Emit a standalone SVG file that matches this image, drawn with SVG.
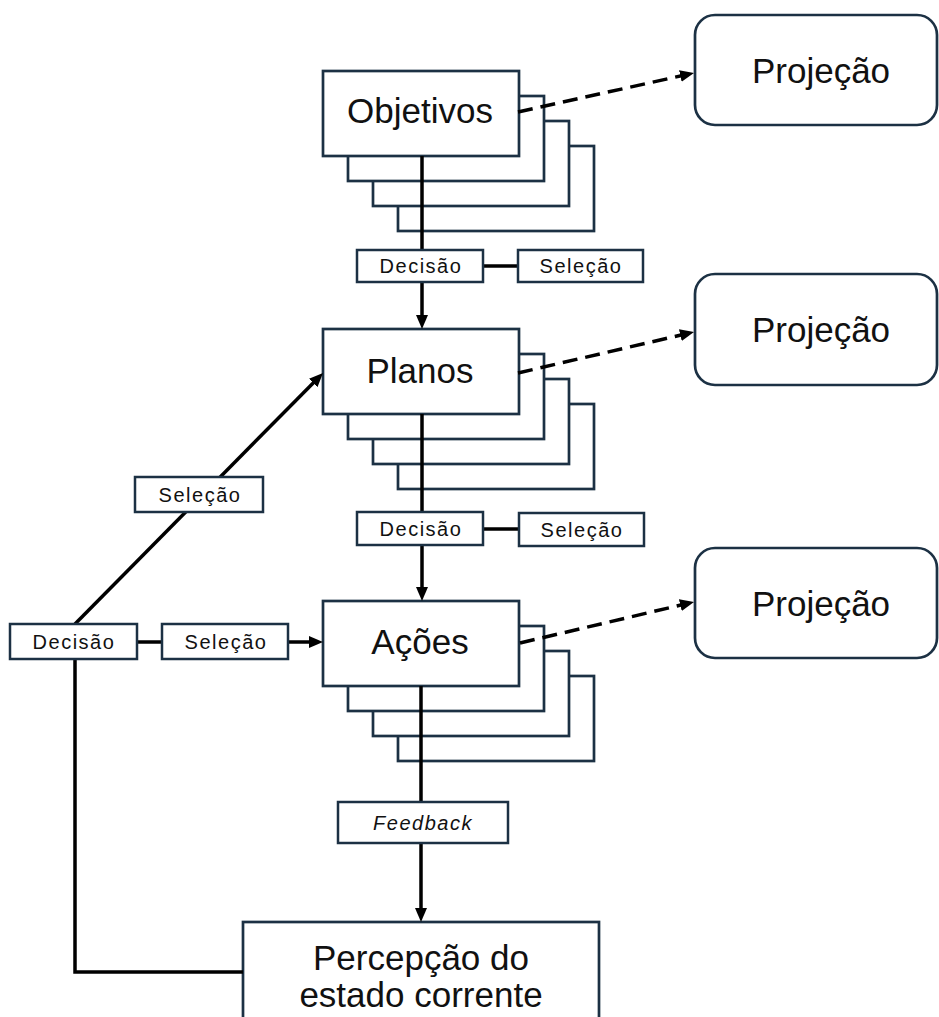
<svg xmlns="http://www.w3.org/2000/svg" width="939" height="1017" viewBox="0 0 939 1017">
  <defs>
    <style>
      .box { fill: #ffffff; stroke: #1c3144; stroke-width: 2.7; }
      .proj { fill: #ffffff; stroke: #1c3144; stroke-width: 2.7; }
      .tag { fill: #ffffff; stroke: #1c3144; stroke-width: 2.5; }
      .big { font-family: "Liberation Sans", Arial, sans-serif; font-size: 35px; fill: #111111; text-anchor: middle; }
      .small { font-family: "Liberation Sans", Arial, sans-serif; font-size: 20px; letter-spacing: 1.5px; fill: #111111; text-anchor: middle; }
      .link { fill: none; stroke: #000000; stroke-width: 3.5; }
      .dash { fill: none; stroke: #000000; stroke-width: 3.5; stroke-dasharray: 15 8; }
    </style>
    <marker id="arrow" viewBox="0 0 14 12" refX="6" refY="6" markerWidth="14" markerHeight="12" markerUnits="userSpaceOnUse" orient="auto">
      <path d="M0,0 L14,6 L0,12 z" fill="#000000"/>
    </marker>
    <!-- stacked card: three offset copies behind the front card -->
    <g id="stack">
      <rect class="box" x="75" y="75" width="196" height="85"/>
      <rect class="box" x="50" y="50" width="196" height="85"/>
      <rect class="box" x="25" y="25" width="196" height="85"/>
      <rect class="box" x="0" y="0" width="196" height="85"/>
    </g>
  </defs>

  <rect x="0" y="0" width="939" height="1017" fill="#ffffff"/>

  <!-- main stacked nodes -->
  <g id="node-objetivos">
    <use href="#stack" x="323" y="71"/>
    <text class="big" x="420" y="123">Objetivos</text>
  </g>
  <g id="node-planos">
    <use href="#stack" x="323" y="329"/>
    <text class="big" x="420" y="383">Planos</text>
  </g>
  <g id="node-acoes">
    <use href="#stack" x="323" y="601"/>
    <text class="big" x="420" y="654">Ações</text>
  </g>

  <!-- projection nodes -->
  <g id="node-projecao-1">
    <rect class="proj" x="695" y="15" width="242" height="110" rx="20" ry="20"/>
    <text class="big" x="821" y="83">Projeção</text>
  </g>
  <g id="node-projecao-2">
    <rect class="proj" x="695" y="274" width="242" height="111" rx="20" ry="20"/>
    <text class="big" x="821" y="342">Projeção</text>
  </g>
  <g id="node-projecao-3">
    <rect class="proj" x="695" y="548" width="242" height="110" rx="20" ry="20"/>
    <text class="big" x="821" y="616">Projeção</text>
  </g>

  <!-- current state node -->
  <g id="node-percepcao">
    <rect class="box" x="243" y="922" width="356" height="110"/>
    <text class="big" x="421" y="970">Percepção do</text>
    <text class="big" x="421" y="1007">estado corrente</text>
  </g>

  <!-- connectors -->
  <g id="connectors">
    <line class="link" x1="422" y1="156" x2="422" y2="250"/>
    <line class="link" x1="483" y1="266" x2="518" y2="266"/>
    <line class="link" x1="422" y1="282" x2="422" y2="321" marker-end="url(#arrow)"/>

    <line class="link" x1="422" y1="414" x2="422" y2="512"/>
    <line class="link" x1="483" y1="529" x2="519" y2="529"/>
    <line class="link" x1="422" y1="545" x2="422" y2="593" marker-end="url(#arrow)"/>

    <line class="link" x1="421" y1="686" x2="421" y2="802"/>
    <line class="link" x1="421" y1="843" x2="421" y2="914" marker-end="url(#arrow)"/>

    <line class="link" x1="75" y1="624" x2="317.4" y2="378.7" marker-end="url(#arrow)"/>
    <line class="link" x1="137" y1="642" x2="162" y2="642"/>
    <line class="link" x1="288" y1="642" x2="315" y2="642" marker-end="url(#arrow)"/>
    <polyline class="link" points="75,659 75,972 243,972"/>

    <line class="dash" x1="518" y1="112" x2="686.2" y2="74.7" marker-end="url(#arrow)"/>
    <line class="dash" x1="518" y1="373" x2="686.2" y2="333.8" marker-end="url(#arrow)"/>
    <line class="dash" x1="520" y1="643" x2="686.2" y2="603.8" marker-end="url(#arrow)"/>
  </g>

  <!-- edge label boxes -->
  <g id="label-decisao-1">
    <rect class="tag" x="357" y="250" width="126" height="32"/>
    <text class="small" x="421" y="273">Decisão</text>
  </g>
  <g id="label-selecao-1">
    <rect class="tag" x="518" y="250" width="125" height="32"/>
    <text class="small" x="581" y="273">Seleção</text>
  </g>
  <g id="label-decisao-2">
    <rect class="tag" x="357" y="512" width="126" height="33"/>
    <text class="small" x="421" y="536">Decisão</text>
  </g>
  <g id="label-selecao-2">
    <rect class="tag" x="519" y="513" width="125" height="33"/>
    <text class="small" x="582" y="537">Seleção</text>
  </g>
  <g id="label-selecao-diag">
    <rect class="tag" x="135" y="477" width="128" height="35"/>
    <text class="small" x="200" y="502">Seleção</text>
  </g>
  <g id="label-decisao-left">
    <rect class="tag" x="10" y="624" width="127" height="35"/>
    <text class="small" x="74" y="649">Decisão</text>
  </g>
  <g id="label-selecao-left">
    <rect class="tag" x="162" y="624" width="126" height="35"/>
    <text class="small" x="226" y="649">Seleção</text>
  </g>
  <g id="label-feedback">
    <rect class="tag" x="338" y="802" width="170" height="41"/>
    <text class="small" x="423" y="830" font-style="italic">Feedback</text>
  </g>
</svg>
